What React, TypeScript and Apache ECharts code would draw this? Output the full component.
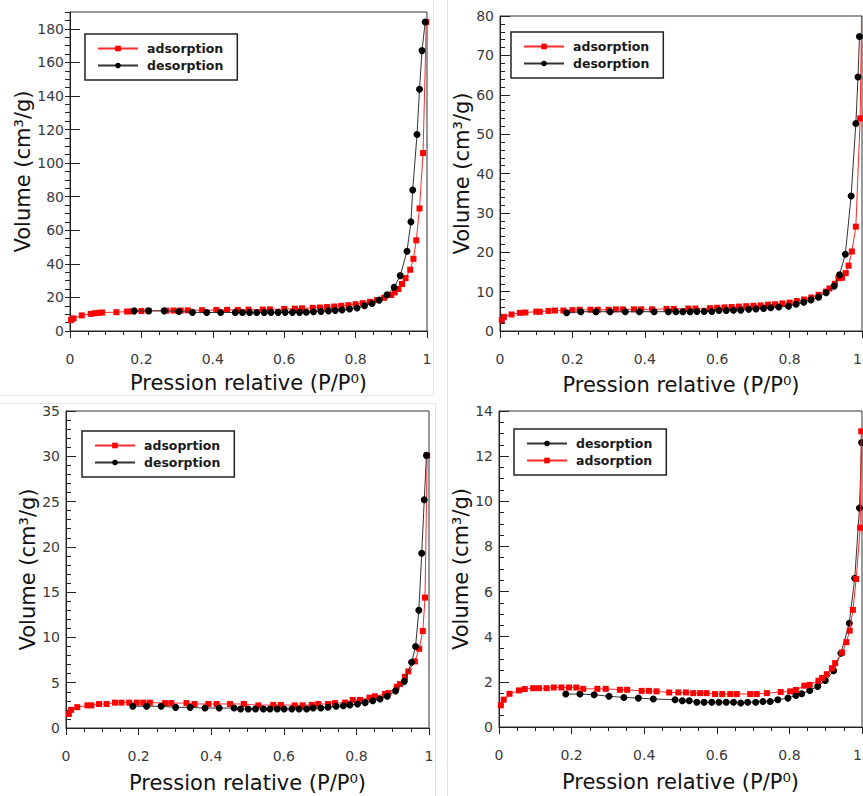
import React, { useEffect, useRef } from "react";
import * as echarts from "echarts";

const FONT = "DejaVu Sans";
const XTITLE = "Pression relative (P/P⁰)";
const YTITLE = "Volume (cm³/g)";

// ---- Panel 1 (top-left) ----
const p1AdsP = [0.003, 0.01, 0.033, 0.058, 0.07, 0.08, 0.09, 0.13, 0.16, 0.175, 0.2, 0.22, 0.27, 0.29, 0.31, 0.33, 0.37, 0.41, 0.44, 0.47, 0.5, 0.54, 0.56, 0.6, 0.63, 0.65, 0.68, 0.7, 0.72, 0.74, 0.76, 0.78, 0.8, 0.82, 0.84, 0.86, 0.88, 0.9, 0.91, 0.92, 0.93, 0.94, 0.953, 0.962, 0.97, 0.979, 0.989, 0.998];
const p1AdsV = [6.5, 7.5, 9.3, 10.2, 10.6, 10.8, 11.0, 11.2, 11.6, 11.7, 11.9, 12.0, 12.1, 12.2, 12.2, 12.3, 12.4, 12.5, 12.6, 12.6, 12.7, 12.8, 12.9, 13.1, 13.3, 13.5, 13.8, 14.0, 14.3, 14.6, 15.0, 15.4, 15.9, 16.6, 17.4, 18.4, 19.8, 21.5, 23, 25, 28, 31.5, 36.5, 43, 54, 73, 106, 184];
const p1DesP = [0.18, 0.22, 0.264, 0.305, 0.343, 0.383, 0.422, 0.463, 0.483, 0.503, 0.523, 0.544, 0.563, 0.583, 0.603, 0.623, 0.643, 0.662, 0.682, 0.703, 0.724, 0.743, 0.762, 0.783, 0.804, 0.825, 0.846, 0.866, 0.888, 0.908, 0.925, 0.944, 0.955, 0.96, 0.972, 0.979, 0.986, 0.995];
const p1DesV = [12, 12, 12, 11.6, 11.1, 11, 11, 11, 11, 11, 11, 11, 11.1, 11.1, 11.1, 11.1, 11.1, 11.2, 11.5, 11.7, 12, 12.3, 12.6, 13.1, 13.7, 15, 16.4, 18.4, 21.5, 26, 33, 47.5, 65, 84, 117, 144, 167, 184];

// ---- Panel 2 (top-right) ----
const p2AdsP = [0.005, 0.011, 0.032, 0.055, 0.07, 0.1, 0.11, 0.134, 0.152, 0.175, 0.2, 0.22, 0.25, 0.27, 0.3, 0.32, 0.34, 0.37, 0.39, 0.42, 0.46, 0.48, 0.52, 0.54, 0.58, 0.6, 0.62, 0.64, 0.66, 0.68, 0.7, 0.72, 0.74, 0.76, 0.78, 0.8, 0.82, 0.84, 0.86, 0.88, 0.9, 0.91, 0.925, 0.935, 0.945, 0.955, 0.963, 0.972, 0.983, 0.995, 0.999];
const p2AdsV = [2.8, 3.6, 4.2, 4.6, 4.7, 4.9, 4.9, 5.1, 5.2, 5.2, 5.3, 5.4, 5.4, 5.4, 5.4, 5.5, 5.5, 5.5, 5.5, 5.5, 5.6, 5.6, 5.7, 5.7, 5.8, 5.9, 6.0, 6.1, 6.2, 6.3, 6.4, 6.5, 6.7, 6.8, 7.0, 7.2, 7.6, 8.0, 8.5, 9.2, 10.0, 10.8, 12.0, 13.4, 13.5, 14.7, 16.6, 20.2, 26.5, 54, 82];
const p2DesP = [0.184, 0.223, 0.265, 0.304, 0.346, 0.385, 0.426, 0.465, 0.486, 0.505, 0.525, 0.544, 0.564, 0.585, 0.605, 0.625, 0.645, 0.665, 0.687, 0.707, 0.728, 0.748, 0.77, 0.797, 0.818, 0.839, 0.859, 0.88, 0.901, 0.923, 0.938, 0.954, 0.97, 0.983, 0.989, 0.993];
const p2DesV = [4.65, 4.9, 4.9, 4.9, 4.9, 4.9, 4.9, 4.9, 4.9, 4.9, 4.9, 4.95, 4.95, 4.95, 5.2, 5.2, 5.25, 5.3, 5.5, 5.6, 5.75, 5.9, 6.1, 6.3, 6.8, 7.3, 7.9, 8.6, 9.7, 11.4, 14.3, 19.5, 34.3, 52.7, 64.5, 74.8];

// ---- Panel 3 (bottom-left) ----
const p3AdsP = [0.008, 0.014, 0.031, 0.059, 0.07, 0.091, 0.112, 0.135, 0.153, 0.174, 0.195, 0.213, 0.231, 0.273, 0.29, 0.332, 0.354, 0.392, 0.415, 0.452, 0.49, 0.53, 0.571, 0.592, 0.63, 0.652, 0.677, 0.695, 0.722, 0.741, 0.769, 0.79, 0.81, 0.836, 0.851, 0.879, 0.888, 0.911, 0.92, 0.934, 0.943, 0.961, 0.973, 0.983, 0.989, 0.995];
const p3AdsV = [1.55, 2.0, 2.3, 2.5, 2.5, 2.65, 2.65, 2.8, 2.8, 2.8, 2.8, 2.8, 2.8, 2.75, 2.75, 2.75, 2.65, 2.65, 2.65, 2.65, 2.65, 2.5, 2.55, 2.55, 2.5, 2.5, 2.55, 2.65, 2.65, 2.75, 2.8, 3.1, 3.1, 3.35, 3.5, 3.75, 3.85, 4.55, 4.85, 5.65, 6.25, 7.35, 8.75, 10.7, 14.4, 30.1];
const p3DesP = [0.184, 0.222, 0.262, 0.302, 0.342, 0.383, 0.422, 0.463, 0.481, 0.502, 0.522, 0.544, 0.562, 0.582, 0.601, 0.622, 0.642, 0.663, 0.681, 0.702, 0.722, 0.744, 0.764, 0.782, 0.803, 0.824, 0.845, 0.865, 0.885, 0.908, 0.932, 0.952, 0.963, 0.972, 0.98, 0.987, 0.993];
const p3DesV = [2.4, 2.4, 2.4, 2.28, 2.28, 2.2, 2.2, 2.2, 2.1, 2.1, 2.1, 2.1, 2.1, 2.1, 2.1, 2.1, 2.1, 2.1, 2.2, 2.2, 2.3, 2.4, 2.45, 2.55, 2.65, 2.8, 3.0, 3.2, 3.5, 4.1, 5.15, 7.25, 9.0, 13.0, 19.3, 25.2, 30.1];

// ---- Panel 4 (bottom-right) ----
const p4DesP = [0.184, 0.223, 0.262, 0.303, 0.344, 0.384, 0.425, 0.485, 0.505, 0.524, 0.545, 0.565, 0.586, 0.606, 0.626, 0.646, 0.666, 0.685, 0.707, 0.727, 0.747, 0.768, 0.796, 0.818, 0.834, 0.856, 0.878, 0.899, 0.922, 0.942, 0.965, 0.98, 0.993, 0.999];
const p4DesV = [1.46, 1.46, 1.43, 1.36, 1.31, 1.28, 1.24, 1.21, 1.16, 1.16, 1.1, 1.1, 1.1, 1.1, 1.1, 1.1, 1.06, 1.1, 1.1, 1.13, 1.13, 1.21, 1.28, 1.4, 1.47, 1.62, 1.8, 2.06, 2.49, 3.27, 4.6, 6.59, 9.7, 12.6];
const p4AdsP = [0.005, 0.013, 0.029, 0.055, 0.071, 0.094, 0.11, 0.131, 0.151, 0.172, 0.193, 0.213, 0.232, 0.271, 0.294, 0.333, 0.353, 0.393, 0.413, 0.434, 0.469, 0.494, 0.515, 0.535, 0.554, 0.572, 0.595, 0.615, 0.637, 0.655, 0.692, 0.71, 0.738, 0.776, 0.802, 0.818, 0.841, 0.856, 0.88, 0.89, 0.903, 0.917, 0.926, 0.945, 0.957, 0.966, 0.975, 0.984, 0.995, 0.998];
const p4AdsV = [0.96, 1.21, 1.47, 1.62, 1.68, 1.72, 1.72, 1.72, 1.75, 1.75, 1.75, 1.75, 1.69, 1.69, 1.69, 1.65, 1.65, 1.6, 1.6, 1.58, 1.53, 1.53, 1.53, 1.5, 1.5, 1.5, 1.46, 1.46, 1.46, 1.46, 1.46, 1.46, 1.5, 1.55, 1.58, 1.64, 1.83, 1.87, 2.05, 2.17, 2.34, 2.6, 2.83, 3.3, 3.76, 4.27, 5.19, 6.56, 8.83, 13.1];

const LEGEND_1 = ["adsorption", "desorption"];
const LEGEND_2 = ["adsorption", "desorption"];
const LEGEND_3 = ["adsoprtion", "desorption"];
const LEGEND_4 = ["desorption", "adsorption"];

const Y_MAX = [190, 80, 35, 14];
const Y_INTERVAL = [20, 10, 5, 2];
const Y_MINOR = [4, 5, 5, 4];

const zip = (xs: number[], ys: number[]) => xs.map((x, i) => [x, ys[i]]);

const GRIDS = [
  { left: 70, top: 12, width: 357, height: 319 },
  { left: 500, top: 16, width: 362, height: 315 },
  { left: 66, top: 411, width: 363, height: 317 },
  { left: 499, top: 411, width: 363, height: 316 },
];
const XGAP = [41, 43, 44, 44];
const YGAP = [30, 27, 26, 26];
const LEG_POS = [
  { left: 85, top: 34 },
  { left: 511, top: 32 },
  { left: 82, top: 431 },
  { left: 514, top: 429 },
];
// panels touching the right page edge keep their last x label inside the page
const ALIGN_MAX = [null, "right", null, "right"];

const AX = "#222";
const LBL = "#3a3a3a";

function adsSeries(name: string, idx: number, data: number[][]) {
  return {
    type: "line", name, xAxisIndex: idx, yAxisIndex: idx, data,
    symbol: "rect", symbolSize: 6, showSymbol: true,
    itemStyle: { color: "#ff0000" },
    lineStyle: { color: "#ff2a2a", width: 1 },
    z: 2,
  };
}
function desSeries(name: string, idx: number, data: number[][]) {
  return {
    type: "line", name, xAxisIndex: idx, yAxisIndex: idx, data,
    symbol: "circle", symbolSize: 7, showSymbol: true,
    itemStyle: { color: "#000000" },
    lineStyle: { color: "#333333", width: 1 },
    z: 3,
  };
}

export default function App() {
  const ref = useRef<HTMLDivElement>(null);
  useEffect(() => {
    const chart = echarts.init(ref.current!, null, { renderer: "svg" });
    const xAxes = GRIDS.map((_, i) => ({
      type: "value", gridIndex: i, min: 0, max: 1, interval: 0.2,
      axisLine: { show: true, onZero: false, lineStyle: { color: AX, width: 1 } },
      axisTick: { show: true, inside: false, length: 7, lineStyle: { color: AX } },
      minorTick: { show: true, splitNumber: 4, length: 4, lineStyle: { color: AX } },
      splitLine: { show: false }, minorSplitLine: { show: false },
      axisLabel: {
        margin: 21, fontSize: 14, color: LBL, fontFamily: FONT,
        formatter: (v: number) => String(v),
        ...(ALIGN_MAX[i] ? { alignMaxLabel: ALIGN_MAX[i] } : {}),
      },
      name: XTITLE, nameLocation: "middle", nameGap: XGAP[i],
      nameTextStyle: { fontSize: 21, color: "#111", fontFamily: FONT },
    }));
    const yAxes: any[] = GRIDS.map((_, i) => ({
      type: "value", gridIndex: i, min: 0, max: Y_MAX[i], interval: Y_INTERVAL[i],
      axisLine: { show: true, onZero: false, lineStyle: { color: AX, width: 1 } },
      axisTick: { show: true, inside: true, length: 10, lineStyle: { color: AX } },
      minorTick: { show: i !== 0, splitNumber: Y_MINOR[i], length: 5, lineStyle: { color: AX } },
      splitLine: { show: false }, minorSplitLine: { show: false },
      axisLabel: { margin: 6, fontSize: 14, color: LBL, fontFamily: FONT, showMaxLabel: i !== 0 ? true : false },
      name: YTITLE, nameLocation: "middle", nameGap: YGAP[i],
      nameTextStyle: { fontSize: 21, color: "#111", fontFamily: FONT },
    }));
    // extra axis for the minor ticks of panel 1
    yAxes.push({
      type: "value", gridIndex: 0, min: 0, max: Y_MAX[0], interval: 5,
      axisLine: { show: false },
      axisTick: { show: true, inside: true, length: 5, lineStyle: { color: AX } },
      axisLabel: { show: false },
      splitLine: { show: false },
    });
    const legendBase = {
      orient: "vertical", itemWidth: 40, itemHeight: 7, itemGap: 4,
      padding: [8, 14, 8, 12], borderColor: "#222", borderWidth: 1.5, borderRadius: 0,
      backgroundColor: "#fff", selectedMode: false,
      textStyle: { fontSize: 12.5, fontWeight: "bold", color: "#1a1a1a", fontFamily: FONT, padding: [0, 0, 0, 4] },
    };
    const legends = [LEGEND_1, LEGEND_2, LEGEND_3, LEGEND_4].map((d, i) => ({
      ...legendBase, ...LEG_POS[i], data: d,
    }));
    const sep = { stroke: "#e4e4e4", lineWidth: 1 };
    const option = {
      animation: false,
      backgroundColor: "#ffffff",
      grid: GRIDS.map((g) => ({
        ...g, show: true, borderColor: "#333", borderWidth: 1, backgroundColor: "transparent",
        containLabel: false, outerBoundsMode: "none",
      })),
      xAxis: xAxes,
      yAxis: yAxes,
      legend: legends,
      series: [
        adsSeries("adsorption", 0, zip(p1AdsP, p1AdsV)),
        desSeries("desorption", 0, zip(p1DesP, p1DesV)),
        adsSeries("adsorption", 1, zip(p2AdsP, p2AdsV)),
        desSeries("desorption", 1, zip(p2DesP, p2DesV)),
        adsSeries("adsoprtion", 2, zip(p3AdsP, p3AdsV)),
        desSeries("desorption", 2, zip(p3DesP, p3DesV)),
        { ...desSeries("desorption", 3, zip(p4DesP, p4DesV)), z: 2 },
        { ...adsSeries("adsorption", 3, zip(p4AdsP, p4AdsV)), z: 3 },
      ],
      graphic: [
        { type: "line", shape: { x1: 433.5, y1: 0, x2: 433.5, y2: 395 }, style: sep, silent: true },
        { type: "line", shape: { x1: 0, y1: 395.5, x2: 433, y2: 395.5 }, style: sep, silent: true },
        { type: "line", shape: { x1: 0, y1: 403.5, x2: 435, y2: 403.5 }, style: sep, silent: true },
        { type: "line", shape: { x1: 435.5, y1: 403, x2: 435.5, y2: 796 }, style: sep, silent: true },
        { type: "line", shape: { x1: 447.5, y1: 0, x2: 447.5, y2: 796 }, style: sep, silent: true },
      ],
    };
    chart.setOption(option as any);
    return () => chart.dispose();
  }, []);
  return (
    <div
      ref={ref}
      style={{ position: "absolute", left: 0, top: 0, width: 863, height: 796, background: "#fff" }}
    />
  );
}
